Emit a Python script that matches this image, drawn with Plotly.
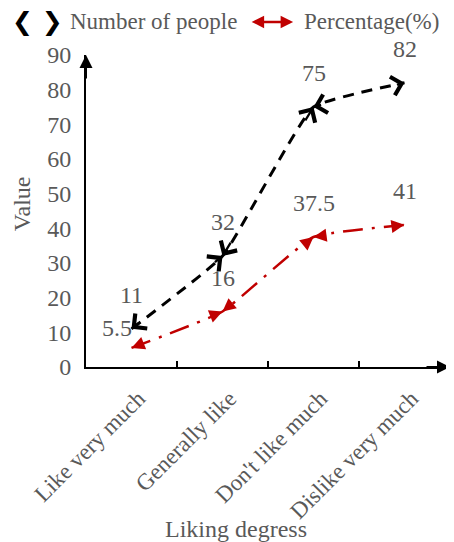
import plotly.graph_objects as go

# ---------------- data ----------------
categories = ["Like very much", "Generally like", "Don't like much", "Dislike very much"]
people = [11, 32, 75, 82]
percentage = [5.5, 16, 37.5, 41]
series_names = ["Number of people", "Percentage(%)"]
y_ticks = [0, 10, 20, 30, 40, 50, 60, 70, 80, 90]
x_title = "Liking degress"
y_title = "Value"

# ---------------- style ----------------
BLACK = "#000000"
RED = "#C00000"
GRAY = "#595959"
FONT = "Liberation Serif"
FS = 24

fig = go.Figure()
n = len(categories)

# black dashed smooth line
fig.add_trace(go.Scatter(
    x=categories, y=people, mode="lines",
    line=dict(color=BLACK, width=3, dash="11px,8px", shape="spline", smoothing=0.35),
    showlegend=False, hoverinfo="skip"))

# red dash-dot smooth line
fig.add_trace(go.Scatter(
    x=categories, y=percentage, mode="lines",
    line=dict(color=RED, width=2.5, dash="20px,9px,3px,9px", shape="spline", smoothing=0.35),
    showlegend=False, hoverinfo="skip"))

# arrowheads at both ends of every segment
T = 0.1
def add_seg_arrows(vals, color, head_style, size, width):
    for i in range(n - 1):
        for head, tail in ((i + 1, i), (i, i + 1)):
            hx, hy = head, vals[head]
            tx = hx + T * (tail - head)
            ty = hy + T * (vals[tail] - vals[head])
            fig.add_annotation(x=hx, y=hy, ax=tx, ay=ty, xref="x", yref="y",
                               axref="x", ayref="y", showarrow=True, text="",
                               arrowhead=head_style, arrowsize=size, arrowwidth=width,
                               arrowcolor=color, standoff=0)

add_seg_arrows(people, BLACK, 4, 1.6, 2.3)
add_seg_arrows(percentage, RED, 2, 1.05, 2.5)

lbl_font = dict(size=FS, color=GRAY, family=FONT)
CLEAR = "rgba(0,0,0,0)"
# data labels (text offset from each point with an invisible leader)
for i in range(n):
    fig.add_annotation(x=i, y=people[i], xref="x", yref="y", text=str(people[i]),
                       showarrow=True, arrowcolor=CLEAR, ax=0, ay=-34,
                       xanchor="center", yanchor="middle", font=lbl_font)
pct_offset = {0: (-15, -20)}
for i in range(n):
    ox, oy = pct_offset.get(i, (0, -34))
    fig.add_annotation(x=i, y=percentage[i], xref="x", yref="y", text=f"{percentage[i]:g}",
                       showarrow=True, arrowcolor=CLEAR, ax=ox, ay=oy,
                       xanchor="center", yanchor="middle", font=lbl_font)

# axis arrows
fig.add_annotation(x=0, y=1, xref="paper", yref="paper", ax=0, ay=25, text="",
                   showarrow=True, arrowhead=2, arrowsize=1.3, arrowwidth=2, arrowcolor=BLACK, standoff=0)
fig.add_annotation(x=1, y=0, xref="paper", yref="paper", ax=-25, ay=0, text="",
                   showarrow=True, arrowhead=2, arrowsize=1.3, arrowwidth=2, arrowcolor=BLACK, standoff=0)

# axis titles
fig.add_annotation(x=0.412, y=-0.518, xref="paper", yref="paper", text=x_title, showarrow=False,
                   xanchor="center", yanchor="middle", font=lbl_font)
fig.add_annotation(x=-0.176, y=0.525, xref="paper", yref="paper", text=y_title, showarrow=False,
                   xanchor="center", yanchor="middle", textangle=-90, font=lbl_font)

# manual legend
LY = 1.106
leg_font = dict(size=23, color=GRAY, family=FONT)
fig.add_annotation(x=-0.132, y=LY, xref="paper", yref="paper", text="<b>\u276E \u276F</b>", showarrow=False,
                   xanchor="center", yanchor="middle",
                   font=dict(size=25, color=BLACK, family="DejaVu Sans"))
fig.add_annotation(x=-0.05, y=LY, xref="paper", yref="paper", text=series_names[0], showarrow=False,
                   xanchor="left", yanchor="middle", font=leg_font)
fig.add_annotation(x=0.569, y=LY, xref="paper", yref="paper", ax=-43, ay=0, text="", showarrow=True,
                   arrowhead=2, arrowside="end+start", arrowsize=1.0, arrowwidth=2.5, arrowcolor=RED, standoff=0)
fig.add_annotation(x=0.593, y=LY, xref="paper", yref="paper", text=series_names[1], showarrow=False,
                   xanchor="left", yanchor="middle", font=leg_font)

# the page body adds an 8px offset, so the figure is 8px smaller than the window
fig.update_layout(
    width=446, height=534,
    margin=dict(l=78, r=4, t=47, b=175, autoexpand=False),
    plot_bgcolor="white", paper_bgcolor="white",
    font=dict(family=FONT, size=FS, color=GRAY),
    showlegend=False,
)
fig.update_xaxes(type="category", categoryorder="array", categoryarray=categories,
                 range=[-0.5, n - 0.5], showline=True, linecolor=BLACK, linewidth=2,
                 ticks="inside", ticklen=6, tickwidth=2, tickcolor=BLACK, tickson="boundaries",
                 tickangle=-45, showgrid=False, zeroline=False, automargin=False,
                 ticklabelstandoff=7, ticklabelshift=7,
                 tickfont=dict(size=23, color=GRAY, family=FONT))
fig.update_yaxes(range=[0, 90], tickvals=y_ticks, showline=True, linecolor=BLACK, linewidth=2,
                 ticks="", showgrid=False, zeroline=False, automargin=False,
                 ticklabelstandoff=8, tickfont=lbl_font)

fig.write_html("out.html")
